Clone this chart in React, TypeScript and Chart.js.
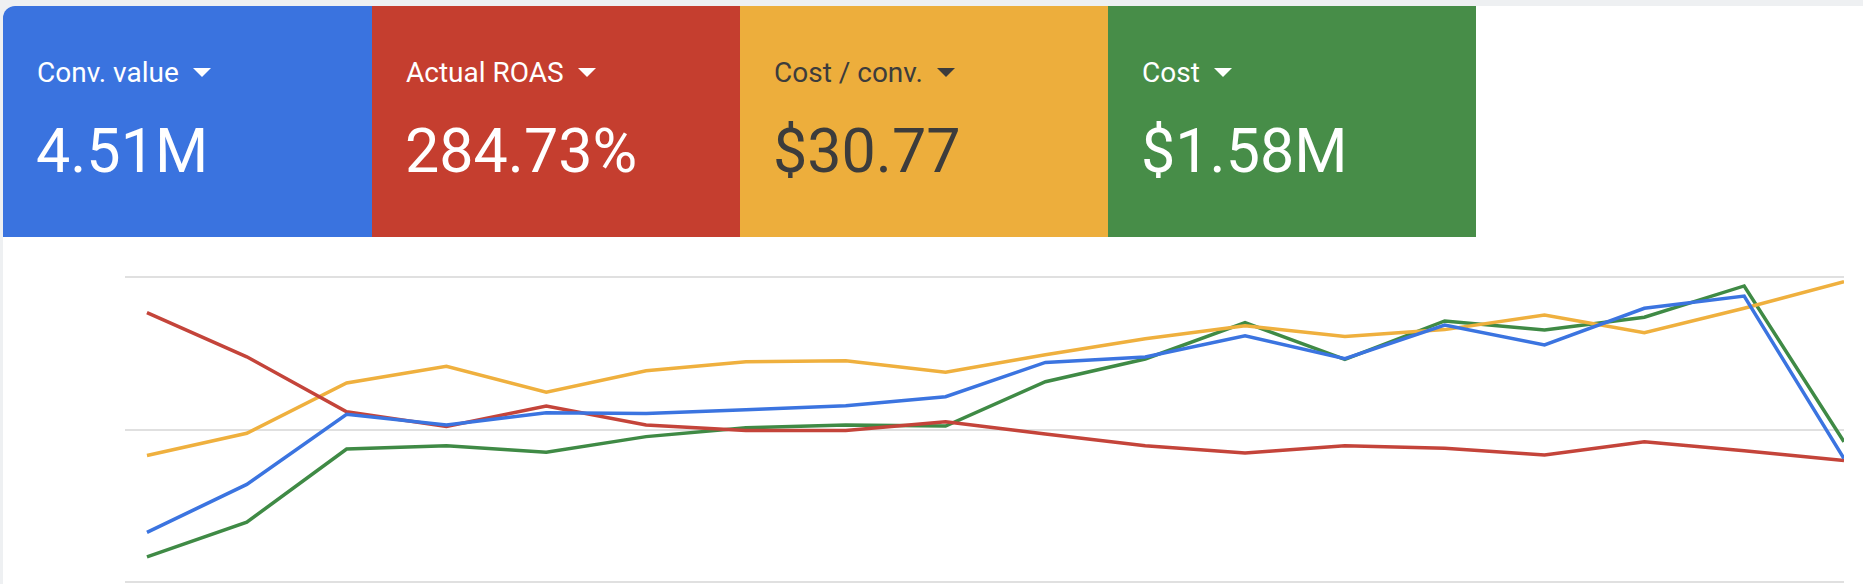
import { useEffect, useRef } from "react";
import { Chart, registerables } from "chart.js";
Chart.register(...registerables);

// one point per period, 18 periods
const periods = [0, 1, 2, 3, 4, 5, 6, 7, 8, 9, 10, 11, 12, 13, 14, 15, 16, 17];
const convValue = [
  65000, 128000, 220000, 206000, 222000, 221000, 226000, 231000, 243000,
  288000, 295000, 323000, 293000, 337000, 311000, 359000, 375000, 162000,
];
const actualRoas = [
  530, 443, 335, 306, 346, 309, 298, 298, 315, 291, 268, 254, 268, 263, 250,
  276, 258, 239,
];
const costPerConv = [
  16.6, 19.5, 26.1, 28.3, 24.9, 27.7, 28.9, 29.0, 27.5, 29.8, 31.9, 33.6, 32.2,
  33.1, 35.0, 32.7, 35.9, 39.4,
];
const cost = [
  12400, 29400, 65400, 67000, 63800, 71500, 75900, 77200, 76700, 98500, 109700,
  127600, 109500, 128400, 123900, 130200, 145600, 69000,
];

const metricNames = ["Conv. value", "Actual ROAS", "Cost / conv.", "Cost"];
const metricTotals = ["4.51M", "284.73%", "$30.77", "$1.58M"];
const axisMax = [400000, 600, 40, 150000];

const tileColors = ["#3a73df", "#c53e2f", "#edae3c", "#478d48"];
const lineColors = ["#3b74e0", "#c4443a", "#efb03e", "#3f8a45"];
const textColors = ["#ffffff", "#ffffff", "#3c3c3c", "#ffffff"];
const tileLefts = [0, 369, 737, 1105];

const MetricTile = ({ i }: { i: number }) => (
  <div
    style={{
      position: "absolute",
      left: tileLefts[i],
      top: 0,
      width: i < 3 ? tileLefts[i + 1] - tileLefts[i] + 1 : 368,
      height: 231,
      background: tileColors[i],
      color: textColors[i],
    }}
  >
    <div
      style={{
        position: "absolute",
        left: 34,
        top: 53,
        fontSize: 28,
        lineHeight: "28px",
        whiteSpace: "nowrap",
      }}
    >
      {metricNames[i]}
      <span
        style={{
          display: "inline-block",
          marginLeft: 14,
          width: 0,
          height: 0,
          borderLeft: "9px solid transparent",
          borderRight: "9px solid transparent",
          borderTop: `9px solid ${textColors[i]}`,
          verticalAlign: "middle",
          position: "relative",
          top: -2,
        }}
      />
    </div>
    <div
      style={{
        position: "absolute",
        left: 33,
        top: 115,
        fontSize: 61,
        lineHeight: "61px",
        whiteSpace: "nowrap",
      }}
    >
      {metricTotals[i]}
    </div>
  </div>
);

const App = () => {
  const canvasRef = useRef<HTMLCanvasElement>(null);

  useEffect(() => {
    if (!canvasRef.current) return;
    const series = [convValue, actualRoas, costPerConv, cost];
    const chart = new Chart(canvasRef.current, {
      type: "line",
      data: {
        datasets: series.map((values, i) => ({
          label: metricNames[i],
          data: values.map((v, k) => ({ x: periods[k], y: v })),
          borderColor: lineColors[i],
          borderWidth: 3.5,
          pointRadius: 0,
          tension: 0,
          fill: false,
          yAxisID: "y" + i,
        })),
      },
      options: {
        animation: false,
        responsive: true,
        maintainAspectRatio: false,
        layout: { padding: { left: 125, right: 19, top: 37, bottom: 2 } },
        plugins: { legend: { display: false }, tooltip: { enabled: false } },
        scales: {
          x: { type: "linear", min: -0.22, max: 17, display: false },
          y0: {
            position: "left",
            min: 0,
            max: axisMax[0],
            ticks: { display: false, stepSize: axisMax[0] / 2 },
            grid: { color: "#e0e0e0", lineWidth: 2, drawTicks: false },
            border: { display: false },
          },
          y1: { display: false, min: 0, max: axisMax[1] },
          y2: { display: false, min: 0, max: axisMax[2] },
          y3: { display: false, min: 0, max: axisMax[3] },
        },
      },
    });
    return () => chart.destroy();
  }, []);

  return (
    <div
      style={{
        position: "fixed",
        left: 0,
        top: 0,
        width: 1863,
        height: 584,
        background: "#eef0f2",
        overflow: "hidden",
        fontFamily: "Roboto, sans-serif",
      }}
    >
      <div
        style={{
          position: "absolute",
          left: 3,
          top: 6,
          width: 1860,
          height: 600,
          background: "#ffffff",
          borderTopLeftRadius: 12,
          overflow: "hidden",
        }}
      >
        {tileLefts.map((_, i) => (
          <MetricTile key={i} i={i} />
        ))}
      </div>
      <div
        style={{ position: "absolute", left: 0, top: 240, width: 1863, height: 344 }}
      >
        <canvas ref={canvasRef}></canvas>
      </div>
    </div>
  );
};

export default App;
